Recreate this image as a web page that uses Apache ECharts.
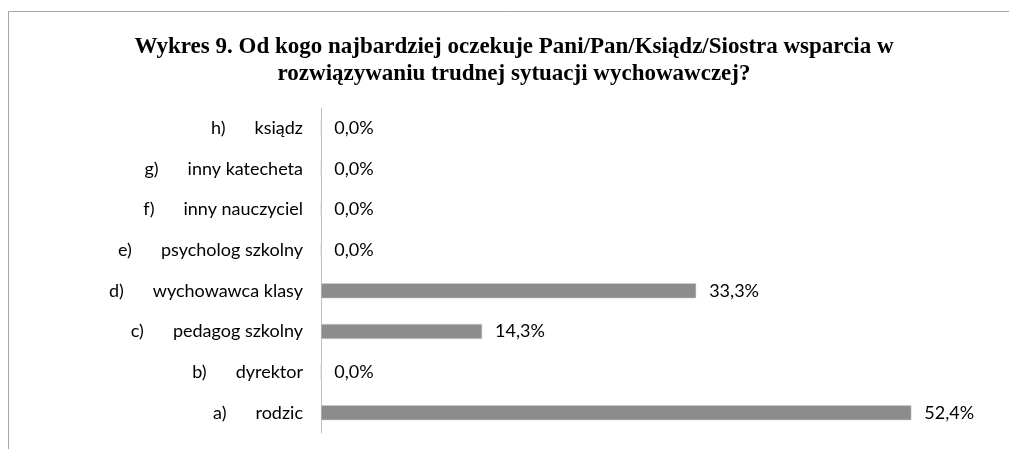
<!DOCTYPE html>
<html>
<head>
<meta charset="utf-8">
<script src="https://cdn.jsdelivr.net/npm/echarts@6/dist/echarts.min.js"></script>
<style>
  html, body { margin: 0; padding: 0; background: #fff; }
  #chart { width: 1009px; height: 449px; }
</style>
</head>
<body>
<div id="chart"></div>
<script>
const titleLines = [
  'Wykres 9. Od kogo najbardziej oczekuje Pani/Pan/Ksiądz/Siostra wsparcia w',
  'rozwiązywaniu trudnej sytuacji wychowawczej?'
]
// od dołu wykresu (a) do góry (h)
const letters = ['a)', 'b)', 'c)', 'd)', 'e)', 'f)', 'g)', 'h)']
const categories = ['rodzic', 'dyrektor', 'pedagog szkolny', 'wychowawca klasy',
  'psycholog szkolny', 'inny nauczyciel', 'inny katecheta', 'ksiądz']
const values = [52.4, 0, 14.3, 33.3, 0, 0, 0, 0]

const chart = echarts.init(document.getElementById('chart'))

const labelFont = 'Lato, "Open Sans", sans-serif'

chart.setOption({
  animation: false,
  graphic: [{
    type: 'polyline',
    shape: { points: [[8.5, 460], [8.5, 11.5], [1020, 11.5]] },
    style: { stroke: '#a6a6a6', lineWidth: 1, fill: null }
  }],
  title: {
    text: titleLines.join('\n'),
    left: 509,
    top: 29,
    textAlign: 'center',
    textStyle: {
      fontFamily: '"Liberation Serif", "Times New Roman", serif',
      fontWeight: 'bold',
      fontSize: 23,
      lineHeight: 27,
      color: '#000'
    }
  },
  grid: { left: 321, top: 108, width: 676, height: 325 },
  xAxis: {
    type: 'value',
    min: 0,
    max: 60,
    show: false
  },
  yAxis: {
    type: 'category',
    data: categories,
    axisLine: { show: true, lineStyle: { color: '#bfbfbf', width: 1 } },
    axisTick: { show: false },
    splitLine: { show: false },
    axisLabel: {
      margin: 18,
      formatter: (v, i) => '{l|' + letters[i] + '}{t|' + v + '}',
      rich: {
        l: { fontFamily: labelFont, fontSize: 18, color: '#000', padding: [0, 29, 0, 0] },
        t: { fontFamily: labelFont, fontSize: 18, color: '#000' }
      }
    }
  },
  series: [{
    type: 'bar',
    data: values,
    barWidth: 15,
    itemStyle: { color: '#8c8c8c', borderColor: '#d0d0d0', borderWidth: 0.5 },
    label: {
      show: true,
      position: 'right',
      distance: 13,
      fontFamily: labelFont,
      fontSize: 18,
      color: '#000',
      formatter: p => p.value.toFixed(1).replace('.', ',') + '%'
    }
  }]
})
</script>
</body>
</html>
